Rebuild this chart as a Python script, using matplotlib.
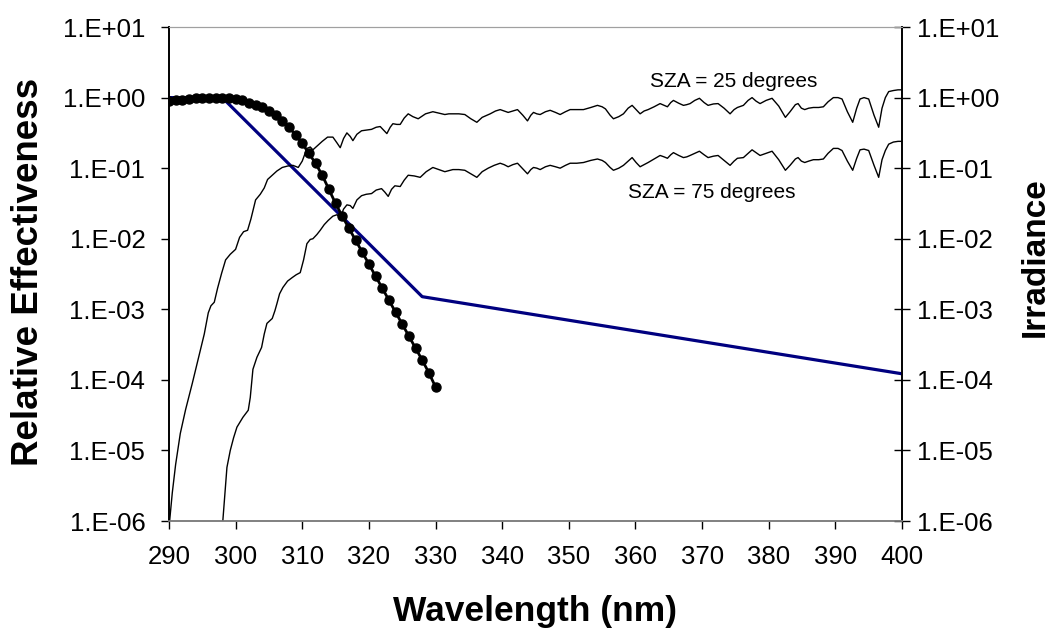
import numpy as np
import matplotlib
matplotlib.use("Agg")
import matplotlib.pyplot as plt
from matplotlib.ticker import FixedLocator, FuncFormatter, NullLocator

plt.rcParams["font.family"] = ["Liberation Sans", "DejaVu Sans"]

# erythema action spectrum (blue line)
ery_wl = [290, 298, 328, 400]
ery_val = [1.0, 1.0, 1.51e-3, 1.22e-4]

# DNA damage action spectrum (black line with dots), 1 nm steps
dna_wl = list(range(290, 331))
dna_val = [0.891, 0.912, 0.933, 0.955, 0.977, 0.989, 1.0, 1.0, 1.0, 0.977,
           0.955, 0.912, 0.851, 0.794, 0.724, 0.646, 0.562, 0.468, 0.380, 0.295,
           0.224, 0.162, 0.117, 0.0794, 0.0501, 0.0316, 0.0209, 0.0141, 0.00955, 0.00646,
           0.00437, 0.00295, 0.00200, 0.00135, 9.12e-4, 6.17e-4, 4.17e-4, 2.82e-4, 1.91e-4, 1.26e-4,
           7.94e-5]

# irradiance spectra, log10 values
sza25_wl = [290.0, 290.5, 291.0, 291.7, 292.5, 293.5, 294.5, 295.3, 295.9, 296.3,
            296.8, 297.3, 297.9, 298.5, 299.2, 300.0, 300.6, 301.2, 301.8, 302.3,
            303.0, 303.7, 304.3, 304.8, 305.5, 306.2, 307.0, 307.8, 308.6, 309.4,
            310.0, 310.7, 311.2, 311.6, 312.3, 313.0, 313.8, 314.6,
            315.2, 315.7, 316.2, 316.7, 317.2, 317.6, 318.2, 318.9, 319.6, 320.4,
            321.1, 321.7, 322.2, 322.7, 323.2, 323.6, 324.2, 324.7, 325.3, 325.9,
            326.6, 327.4, 328.5, 329.6, 330.5, 331.4, 332.0, 332.6, 333.5, 334.4,
            335.3, 336.2, 337.0, 337.7, 338.2, 339.0, 339.7, 340.3, 340.9, 341.6,
            342.3, 343.1, 343.8, 344.3, 344.7, 345.2, 345.7, 346.5, 347.2, 348.0,
            348.7, 349.5, 350.2, 351.2, 352.2, 353.3, 354.3, 355.0, 355.5, 356.2,
            356.7, 357.5, 358.2, 358.9, 359.5, 360.1, 360.7, 361.3, 361.9, 362.8,
            363.7, 364.3, 364.8, 365.3, 365.7, 366.5, 367.2, 367.7, 368.2, 368.9,
            369.6, 370.3, 370.9, 371.7, 372.4, 373.3, 374.2, 374.8, 375.3, 376.2,
            376.9, 377.5, 378.1, 378.7, 379.6, 380.5, 381.5, 382.5, 383.2, 384.0,
            384.4, 384.9, 385.4, 386.0, 386.7, 387.5, 388.2, 388.9, 389.7, 390.4,
            391.0, 391.8, 392.6, 393.2, 393.7, 394.3, 395.0, 395.8, 396.5, 397.0,
            397.5, 398.0, 398.7, 399.4, 400.0]
sza25_log = [-6.1, -5.6, -5.2, -4.76, -4.42, -4.05, -3.66, -3.35, -3.05, -2.95,
             -2.90, -2.70, -2.49, -2.30, -2.22, -2.15, -1.98, -1.90, -1.88, -1.72,
             -1.45, -1.37, -1.28, -1.16, -1.10, -1.04, -0.99, -0.97, -0.96, -0.99,
             -0.90, -0.72, -0.70, -0.74, -0.68, -0.62, -0.56, -0.56,
             -0.64, -0.71, -0.58, -0.50, -0.55, -0.61, -0.52, -0.47, -0.46, -0.45,
             -0.42, -0.41, -0.46, -0.51, -0.42, -0.37, -0.38, -0.38, -0.29, -0.23,
             -0.27, -0.30, -0.23, -0.20, -0.22, -0.24, -0.23, -0.23, -0.23, -0.24,
             -0.30, -0.35, -0.28, -0.25, -0.23, -0.19, -0.17, -0.19, -0.21, -0.19,
             -0.17, -0.25, -0.33, -0.25, -0.21, -0.23, -0.24, -0.20, -0.18, -0.21,
             -0.24, -0.20, -0.17, -0.17, -0.17, -0.14, -0.11, -0.13, -0.16, -0.25,
             -0.30, -0.27, -0.23, -0.15, -0.11, -0.17, -0.23, -0.19, -0.17, -0.13,
             -0.085, -0.11, -0.13, -0.07, -0.04, -0.08, -0.11, -0.10, -0.085, -0.04,
             -0.01, -0.07, -0.11, -0.09, -0.085, -0.15, -0.23, -0.17, -0.14, -0.11,
             -0.04, 0.0, -0.05, -0.085, -0.04, -0.01, -0.12, -0.28, -0.20, -0.10,
             -0.085, -0.15, -0.17, -0.15, -0.14, -0.14, -0.13, -0.06, 0.0, 0.0,
             -0.02, -0.20, -0.35, -0.15, -0.02, 0.0, -0.02, -0.25, -0.42, -0.15,
             0.0, 0.085, 0.10, 0.11, 0.11]

sza75_wl = [298.0, 298.4, 298.7, 299.2, 299.7, 300.2, 301.1, 301.9, 302.2, 302.6,
            303.2, 303.9, 304.3, 304.7, 305.5, 305.9, 306.2, 306.6, 307.1, 307.8,
            308.5, 309.1, 309.7, 310.2, 310.7, 311.2, 311.6, 312.2, 312.7, 313.3,
            313.9, 314.6,
            315.2, 315.7, 316.2, 316.7, 317.2, 317.6, 318.2, 318.9, 319.6, 320.4,
            321.1, 321.9, 322.4, 322.9, 323.4, 323.9, 324.7, 325.3, 325.9, 326.8,
            327.7, 328.6, 329.6, 330.5, 331.4, 332.6, 333.5, 334.4, 335.3, 336.2,
            337.0, 337.9, 338.8, 339.7, 340.3, 340.9, 341.6, 342.3, 343.1, 343.8,
            344.3, 344.7, 345.2, 345.7, 346.5, 347.2, 348.0, 348.7, 349.5, 350.2,
            351.2, 352.2, 353.3, 354.3, 355.0, 355.5, 356.2, 356.7, 357.5, 358.2,
            358.9, 359.5, 360.1, 360.7, 361.3, 361.9, 362.8, 363.7, 364.3, 364.8,
            365.3, 365.7, 366.5, 367.2, 367.7, 368.2, 368.9, 369.6, 370.3, 370.9,
            371.7, 372.4, 373.3, 374.2, 374.8, 375.3, 376.2, 376.9, 377.5, 378.1,
            378.7, 379.6, 380.5, 381.5, 382.5, 383.2, 384.0, 384.4, 384.9, 385.4,
            386.0, 386.7, 387.5, 388.2, 388.9, 389.7, 390.4, 391.0, 391.8, 392.6,
            393.2, 393.7, 394.3, 395.0, 395.8, 396.5, 397.0, 397.5, 398.0, 398.7,
            399.4, 400.0]
sza75_log = [-6.1, -5.6, -5.24, -5.00, -4.82, -4.67, -4.53, -4.43, -4.25, -3.85,
             -3.68, -3.54, -3.35, -3.20, -3.13, -3.02, -2.92, -2.78, -2.69, -2.60,
             -2.55, -2.51, -2.48, -2.30, -2.07, -2.01, -2.00, -1.94, -1.88, -1.80,
             -1.74, -1.68,
             -1.66, -1.70, -1.58, -1.52, -1.53, -1.57, -1.45, -1.39, -1.37, -1.36,
             -1.31, -1.29, -1.34, -1.40, -1.30, -1.25, -1.26, -1.17, -1.10, -1.11,
             -1.13, -1.05, -0.99, -1.02, -1.05, -1.02, -1.02, -1.03, -1.08, -1.13,
             -1.05, -1.00, -0.96, -0.93, -0.95, -0.98, -0.95, -0.93, -1.01, -1.08,
             -1.02, -0.99, -1.00, -1.02, -0.98, -0.96, -0.98, -1.00, -0.96, -0.93,
             -0.93, -0.92, -0.89, -0.87, -0.89, -0.92, -0.99, -1.03, -1.00, -0.96,
             -0.90, -0.85, -0.92, -0.98, -0.95, -0.92, -0.87, -0.82, -0.84, -0.86,
             -0.81, -0.78, -0.82, -0.85, -0.84, -0.82, -0.79, -0.76, -0.81, -0.85,
             -0.83, -0.82, -0.89, -0.96, -0.90, -0.86, -0.85, -0.79, -0.74, -0.78,
             -0.82, -0.79, -0.76, -0.88, -1.03, -0.96, -0.87, -0.85, -0.90, -0.92,
             -0.90, -0.88, -0.88, -0.87, -0.79, -0.72, -0.72, -0.75, -0.90, -1.03,
             -0.86, -0.74, -0.73, -0.75, -0.96, -1.13, -0.88, -0.75, -0.66, -0.63,
             -0.62, -0.62]

x_ticks = list(range(290, 401, 10))
y_ticks = [1e-6, 1e-5, 1e-4, 1e-3, 1e-2, 1e-1, 1e0, 1e1]


def sci_label(v, pos):
    exp = int(round(np.log10(v)))
    return f"1.E{exp:+03d}"


fig = plt.figure(figsize=(10.54, 6.36), dpi=100)
ax = fig.add_axes([0.1603, 0.1808, 0.6955, 0.7767])
ax2 = ax.twinx()

ax.plot(ery_wl, ery_val, color="#000080", lw=2.3, zorder=3)
ax.plot(dna_wl, dna_val, color="black", lw=2.0, marker="o", ms=6.5,
        markerfacecolor="black", markeredgecolor="black", zorder=4)

ax2.plot(sza25_wl, np.power(10.0, sza25_log), color="black", lw=1.0)
ax2.plot(sza75_wl, np.power(10.0, sza75_log), color="black", lw=1.0)

ax2.text(374.7, 1.7, "SZA = 25 degrees", fontsize=15, ha="center", va="center")
ax2.text(371.5, 0.045, "SZA = 75 degrees", fontsize=15, ha="center", va="center")

for a in (ax, ax2):
    a.set_yscale("log")
    a.set_ylim(1e-6, 1e1)
    a.set_xlim(290, 400)
    a.yaxis.set_major_locator(FixedLocator(y_ticks))
    a.yaxis.set_minor_locator(NullLocator())
    a.yaxis.set_major_formatter(FuncFormatter(sci_label))

ax.set_xticks(x_ticks)
ax.tick_params(axis="x", direction="out", length=6, width=1, labelsize=18.5, pad=11)
ax.tick_params(axis="y", direction="out", length=6, width=1, labelsize=18.5, pad=11)
ax2.tick_params(axis="y", direction="inout", length=12, width=1, labelsize=18.5, pad=5)

for a in (ax, ax2):
    a.spines["left"].set_linewidth(1.2)
    a.spines["right"].set_linewidth(1.2)
    a.spines["bottom"].set_color("#808080")
    a.spines["bottom"].set_linewidth(1.2)
    a.spines["top"].set_color("#a0a0a0")
    a.spines["top"].set_linewidth(0.8)

fig.text(0.508, 0.038, "Wavelength (nm)", fontsize=25.5, fontweight="bold",
         ha="center", va="center")
fig.text(0.027, 0.572, "Relative Effectiveness", fontsize=26.5, fontweight="bold",
         rotation=90, ha="center", va="center")
fig.text(0.982, 0.595, "Irradiance", fontsize=24, fontweight="bold",
         rotation=90, ha="center", va="center")

fig.savefig("out.png", dpi=100)
